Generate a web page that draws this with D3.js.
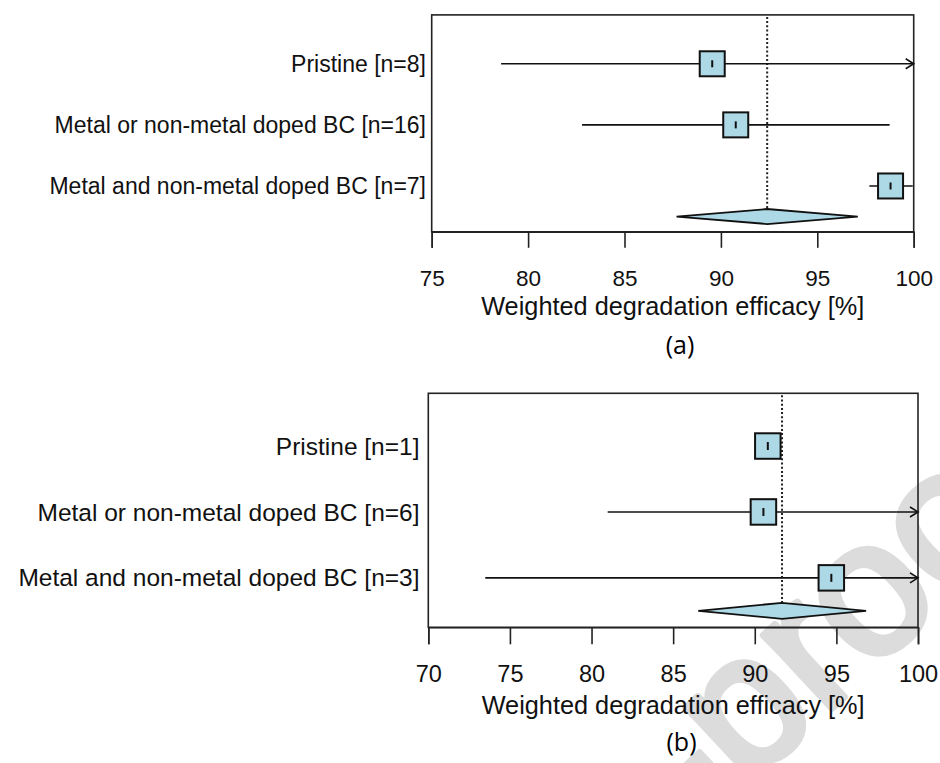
<!DOCTYPE html>
<html>
<head>
<meta charset="utf-8">
<script src="https://cdn.jsdelivr.net/npm/d3@7/dist/d3.min.js"></script>
<style>
  body { margin: 0; background: #fff; }
  svg { display: block; }
  text { font-family: "Liberation Sans", Arial, sans-serif; fill: #111; }
</style>
</head>
<body>
<div id="chart"></div>
<script>
// panel (a)
var groupsA = ["Pristine [n=8]", "Metal or non-metal doped BC [n=16]", "Metal and non-metal doped BC [n=7]"];
var estA  = [89.55, 90.77, 98.8];
var lowA  = [78.6, 82.8, 97.7];
var highA = [101.2, 98.75, 99.95];
var summaryA = [87.7, 92.4, 97.1];   // lower, estimate, upper
var ticksA = [75, 80, 85, 90, 95, 100];

// panel (b)
var groupsB = ["Pristine [n=1]", "Metal or non-metal doped BC [n=6]", "Metal and non-metal doped BC [n=3]"];
var estB  = [90.8, 90.53, 94.69];
var lowB  = [90.8, 80.99, 73.49];
var highB = [90.8, 100.8, 101.5];
var summaryB = [86.54, 91.67, 96.82];
var ticksB = [70, 75, 80, 85, 90, 95, 100];

var axisTitle = "Weighted degradation efficacy [%]";

var W = 940, H = 763;

var svg = d3.select("#chart")
  .append("svg")
  .attr("width", W)
  .attr("height", H);

// watermark (behind everything)
var wmAngle = -43;
var wmX = 1062, wmY = 494;
svg.append("text")
  .attr("x", wmX)
  .attr("y", wmY)
  .attr("text-anchor", "end")
  .attr("transform", "rotate(" + wmAngle + "," + wmX + "," + wmY + ")")
  .style("font-size", "190px")
  .style("fill", "#dcdcdc")
  .style("stroke", "#dcdcdc")
  .style("stroke-width", 7)
  .style("stroke-linejoin", "round")
  .text("Journal Pre-proof");

function forest(opt) {
  var g = svg.append("g");

  var x = d3.scaleLinear().domain(opt.domain).range(opt.xRange);
  var y = d3.scaleLinear().domain([3.8, 0.25]).range(opt.yRange);
  var rows = opt.groups.map(function(d, i) {
    return { label: d, est: opt.est[i], lo: opt.low[i], hi: opt.high[i], row: 3 - i };
  });
  var xMax = opt.domain[1];
  var half = opt.square / 2;

  // frame
  g.append("rect")
    .attr("x", opt.xRange[0])
    .attr("y", opt.yRange[0])
    .attr("width", opt.xRange[1] - opt.xRange[0])
    .attr("height", opt.yRange[1] - opt.yRange[0])
    .style("fill", "none")
    .style("stroke", "#222")
    .style("stroke-width", 1.6);

  // reference (dotted) line at summary estimate
  g.append("line")
    .attr("x1", x(opt.summary[1]))
    .attr("x2", x(opt.summary[1]))
    .attr("y1", opt.yRange[0] + 2)
    .attr("y2", y(0.5) - opt.diamondH)
    .style("stroke", "#222")
    .style("stroke-width", 2)
    .style("stroke-dasharray", "2,2.2");

  // CI lines
  g.selectAll("line.ci")
    .data(rows)
    .enter().append("line")
    .attr("class", "ci")
    .attr("x1", function(d) { return x(d.lo); })
    .attr("x2", function(d) { return x(Math.min(d.hi, xMax)); })
    .attr("y1", function(d) { return y(d.row); })
    .attr("y2", function(d) { return y(d.row); })
    .style("stroke", "#111")
    .style("stroke-width", 1.6);

  // open arrow heads where CI runs past the axis
  g.selectAll("path.arrow")
    .data(rows.filter(function(d) { return d.hi > xMax; }))
    .enter().append("path")
    .attr("class", "arrow")
    .attr("d", function(d) {
      var ax = x(xMax), ay = y(d.row);
      return "M" + (ax - 8) + "," + (ay - 5) + "L" + ax + "," + ay + "L" + (ax - 8) + "," + (ay + 5);
    })
    .style("fill", "none")
    .style("stroke", "#111")
    .style("stroke-width", 1.6);

  // squares
  g.selectAll("rect.sq")
    .data(rows)
    .enter().append("rect")
    .attr("class", "sq")
    .attr("x", function(d) { return x(d.est) - half; })
    .attr("y", function(d) { return y(d.row) - half; })
    .attr("width", opt.square)
    .attr("height", opt.square)
    .style("fill", "#add8e6")
    .style("stroke", "#111")
    .style("stroke-width", 2);

  // point estimate tick inside square
  g.selectAll("line.pt")
    .data(rows)
    .enter().append("line")
    .attr("class", "pt")
    .attr("x1", function(d) { return x(d.est); })
    .attr("x2", function(d) { return x(d.est); })
    .attr("y1", function(d) { return y(d.row) - opt.ptH; })
    .attr("y2", function(d) { return y(d.row) + opt.ptH; })
    .style("stroke", "#111")
    .style("stroke-width", 2);

  // summary diamond
  var dy = y(0.5);
  g.append("path")
    .attr("d", "M" + x(opt.summary[0]) + "," + dy
      + "L" + x(opt.summary[1]) + "," + (dy - opt.diamondH)
      + "L" + x(opt.summary[2]) + "," + dy
      + "L" + x(opt.summary[1]) + "," + (dy + opt.diamondH) + "Z")
    .style("fill", "#add8e6")
    .style("stroke", "#111")
    .style("stroke-width", 1.8);

  // row labels
  g.selectAll("text.lab")
    .data(rows)
    .enter().append("text")
    .attr("class", "lab")
    .attr("x", opt.labelX)
    .attr("y", function(d) { return y(d.row); })
    .attr("dy", "0.35em")
    .attr("text-anchor", "end")
    .style("font-size", opt.labelSize + "px")
    .text(function(d) { return d.label; });

  // x axis
  var axis = d3.axisBottom(x)
    .tickValues(opt.ticks)
    .tickSize(opt.tickLen)
    .tickPadding(opt.tickPad)
    .tickFormat(d3.format("d"));
  var ax = g.append("g")
    .attr("transform", "translate(0," + opt.yRange[1] + ")")
    .call(axis);
  ax.select(".domain").style("stroke", "#222").style("stroke-width", 1.6);
  ax.selectAll(".tick line").style("stroke", "#222").style("stroke-width", 1.6);
  ax.selectAll(".tick text")
    .style("font-family", "'Liberation Sans', Arial, sans-serif")
    .style("font-size", opt.tickSize + "px")
    .style("fill", "#111");

  g.append("text")
    .attr("x", (opt.xRange[0] + opt.xRange[1]) / 2)
    .attr("y", opt.titleY)
    .attr("text-anchor", "middle")
    .style("font-size", "25.3px")
    .text(axisTitle);

  g.append("text")
    .attr("x", opt.capX)
    .attr("y", opt.capY)
    .attr("text-anchor", "middle")
    .style("font-family", "'Open Sans', sans-serif")
    .style("font-size", "25px")
    .style("fill", "#000")
    .text(opt.caption);
}

forest({
  groups: groupsA, est: estA, low: lowA, high: highA, summary: summaryA, ticks: ticksA,
  domain: [75, 100], xRange: [431.7, 913.7], yRange: [14.9, 231.8],
  square: 25, ptH: 3.5, diamondH: 7.5,
  labelX: 426, labelSize: 23,
  tickLen: 16, tickPad: 22, tickSize: 22.5,
  titleY: 315, caption: "(a)", capX: 680, capY: 354
});

forest({
  groups: groupsB, est: estB, low: lowB, high: highB, summary: summaryB, ticks: ticksB,
  domain: [70, 100], xRange: [428.3, 918], yRange: [393.3, 627.3],
  square: 25.5, ptH: 4, diamondH: 8,
  labelX: 419.5, labelSize: 24.5,
  tickLen: 17, tickPad: 21, tickSize: 23.5,
  titleY: 714, caption: "(b)", capX: 681.5, capY: 751
});
</script>
</body>
</html>
